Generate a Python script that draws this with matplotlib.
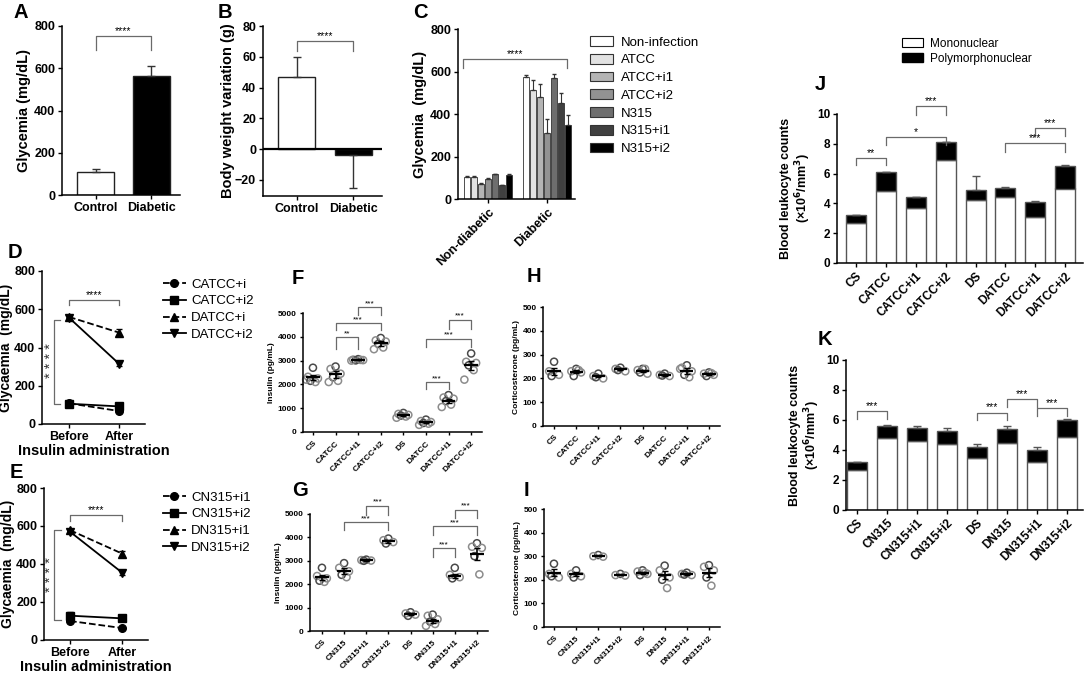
import matplotlib
matplotlib.use('Agg')
import matplotlib.pyplot as plt
import numpy as np
from matplotlib.lines import Line2D
from matplotlib.patches import Patch

plt.rcParams['font.family'] = ['Liberation Sans', 'DejaVu Sans']
plt.rcParams['font.weight'] = 'bold'
plt.rcParams['axes.linewidth'] = 1.1
plt.rcParams['axes.labelweight'] = 'bold'

# ---- data ----
ab_groups = ['Control', 'Diabetic']
glyc_a = [110, 562]
glyc_a_err = [12, 50]
bw_b = [47, -4]
bw_b_err = [13, 21]

c_groups = ['Non-diabetic', 'Diabetic']
c_series = ['Non-infection', 'ATCC', 'ATCC+i1', 'ATCC+i2', 'N315', 'N315+i1', 'N315+i2']
c_nondiab = [105, 105, 69, 94, 117, 64, 115]
c_nondiab_err = [3, 3, 4, 6, 3, 4, 3]
c_diab = [572, 513, 479, 311, 570, 450, 349]
c_diab_err = [13, 46, 63, 66, 20, 48, 45]
c_colors = ['#ffffff', '#e2e2e2', '#b4b4b4', '#929292', '#6e6e6e', '#404040', '#000000']

stages = ['Before', 'After']
d_labels = ['CATCC+i', 'CATCC+i2', 'DATCC+i', 'DATCC+i2']
d_vals = [[108, 68], [106, 92], [560, 478], [556, 315]]
d_err = [[4, 4], [6, 6], [8, 18], [8, 14]]
e_labels = ['CN315+i1', 'CN315+i2', 'DN315+i1', 'DN315+i2']
e_vals = [[100, 63], [128, 114], [578, 455], [570, 355]]
e_err = [[6, 4], [22, 6], [8, 16], [8, 12]]
line_styles = [('o', '--'), ('s', '-'), ('^', '--'), ('v', '-')]

f_cats = ['CS', 'CATCC', 'CATCC+i1', 'CATCC+i2', 'DS', 'DATCC', 'DATCC+i1', 'DATCC+i2']
f_pts = [[2700, 2320, 2250, 2150, 2100, 2200],
         [2750, 2650, 2450, 2300, 2150, 2100],
         [3060, 3040, 3020, 3010, 3030, 3000],
         [3950, 3850, 3800, 3700, 3550, 3480],
         [800, 760, 720, 690, 650, 600],
         [520, 460, 420, 380, 350, 300],
         [1550, 1450, 1400, 1300, 1150, 1050],
         [3300, 2950, 2900, 2800, 2600, 2200]]
f_mean = [2300, 2420, 3030, 3720, 720, 400, 1300, 2800]
f_sem = [100, 150, 20, 100, 30, 40, 100, 200]
f_sig = [(1, 2, 3990, 3500, '**'), (1, 3, 4580, 4270, '***'), (2, 3, 5250, 4900, '***'),
         (5, 6, 2100, 1820, '***'), (5, 7, 3920, 3570, '***'), (6, 7, 4720, 4340, '***')]

g_cats = ['CS', 'CN315', 'CN315+i1', 'CN315+i2', 'DS', 'DN315', 'DN315+i1', 'DN315+i2']
g_pts = [[2700, 2350, 2250, 2150, 2100],
         [2900, 2700, 2550, 2400, 2300],
         [3050, 3030, 3010, 3000],
         [3950, 3880, 3800, 3740],
         [800, 750, 700, 650],
         [700, 650, 500, 400, 300, 220],
         [2700, 2400, 2300, 2250],
         [3750, 3600, 3550, 3200, 2420]]
g_mean = [2300, 2570, 3020, 3830, 720, 430, 2350, 3300]
g_sem = [100, 120, 20, 50, 40, 100, 80, 250]
g_sig = [(2, 3, 5360, 4970, '***'), (1, 3, 4640, 4330, '***'), (5, 6, 3540, 3180, '***'),
         (5, 7, 4470, 4110, '***'), (6, 7, 5190, 4830, '***')]

h_pts = [[270, 230, 215, 210], [240, 230, 225, 210, 235], [220, 210, 200, 205],
         [245, 240, 230, 235], [240, 235, 220, 225, 240], [220, 215, 210, 212],
         [255, 245, 230, 215, 205, 240], [225, 220, 215, 210, 222]]
h_mean = [230, 228, 210, 240, 230, 214, 230, 220]
h_sem = [15, 6, 5, 4, 5, 3, 13, 4]

i_pts = [[268, 225, 210, 215], [240, 225, 215, 210], [305, 300, 298],
         [225, 220, 218], [240, 235, 225, 220, 230], [260, 240, 210, 200, 165],
         [230, 225, 220, 222], [262, 255, 240, 210, 175]]
i_mean = [230, 225, 302, 222, 230, 220, 225, 230]
i_sem = [14, 8, 3, 3, 5, 18, 3, 18]

j_cats = f_cats
j_mono = [2.7, 4.85, 3.7, 6.9, 4.2, 4.4, 3.1, 5.0]
j_total = [3.2, 6.1, 4.4, 8.1, 4.9, 5.0, 4.1, 6.5]
j_err = [0.05, 0.03, 0.03, 0.04, 0.95, 0.08, 0.06, 0.1]
j_sig = [(0, 1, 7.03, 6.58, '**'), (1, 3, 8.45, 7.9, '*'), (2, 3, 10.56, 9.96, '***'),
         (5, 7, 8.04, 7.48, '***'), (6, 7, 9.06, 8.54, '***')]

k_cats = g_cats
k_mono = [2.7, 4.8, 4.6, 4.4, 3.5, 4.5, 3.2, 4.9]
k_total = [3.2, 5.6, 5.5, 5.3, 4.2, 5.4, 4.0, 6.0]
k_err = [0.02, 0.1, 0.1, 0.2, 0.2, 0.2, 0.2, 0.1]
k_sig = [(0, 1, 6.6, 6.1, '***'), (4, 5, 6.5, 6.0, '***'), (5, 6, 7.4, 6.9, '***'),
         (6, 7, 6.8, 6.3, '***')]

W, H = 1084, 675
fig = plt.figure(figsize=(W / 100, H / 100), dpi=100)
BR = '#6a6a6a'


def add_ax(left, top, right, bottom):
    return fig.add_axes([left / W, 1 - bottom / H, (right - left) / W, (bottom - top) / H])


def style(ax, fs, tlen=3):
    ax.spines['top'].set_visible(False)
    ax.spines['right'].set_visible(False)
    ax.tick_params(direction='out', length=tlen, width=1, labelsize=fs, pad=2)


def bracket(ax, x1, x2, y, tip, text, fs):
    ax.plot([x1, x1, x2, x2], [tip, y, y, tip], color=BR, lw=0.9, clip_on=False)
    ax.text((x1 + x2) / 2, y, text, ha='center', va='bottom', fontsize=fs,
            fontweight='normal', clip_on=False)


def letter(x, y, s):
    fig.text(x / W, 1 - y / H, s, fontsize=14.5, fontweight='bold', ha='left', va='center')


# ---- A ----
ax = add_ax(62, 26, 180, 195)
xa = np.arange(len(ab_groups))
ax.bar(xa, glyc_a, width=0.66, color=['white', 'black'], edgecolor='#222', lw=1.0,
       yerr=[[0, 0], glyc_a_err], error_kw=dict(ecolor='#333', capsize=3, elinewidth=1))
ax.set_xlim(-0.6, 1.51)
ax.set_ylim(0, 800)
ax.set_yticks(range(0, 801, 200))
ax.set_xticks(xa, ab_groups)
ax.set_ylabel('Glycemia (mg/dL)', fontsize=10.5, labelpad=2)
style(ax, 9)
bracket(ax, 0, 1, 753, 686, '****', 7.5)

# ---- B ----
ax = add_ax(263, 26, 382, 196)
ax.bar(xa, bw_b, width=0.66, color=['white', 'black'], edgecolor='#222', lw=1.0,
       yerr=[[0, bw_b_err[1]], [bw_b_err[0], 0]],
       error_kw=dict(ecolor='#333', capsize=3, elinewidth=1))
ax.axhline(0, color='black', lw=1.6)
ax.set_xlim(-0.6, 1.51)
ax.set_ylim(-30.5, 80)
ax.set_yticks(range(-20, 81, 20))
ax.set_xticks(xa, ab_groups)
ax.set_ylabel('Body weight variation (g)', fontsize=10.5, labelpad=0)
style(ax, 9)
bracket(ax, 0, 1, 70.4, 64, '****', 7.5)

# ---- C ----
ax = add_ax(458, 29, 575, 199)
xc = np.arange(len(c_groups))
step = 0.118
for i, name in enumerate(c_series):
    ax.bar(xc + (i - 3) * step, [c_nondiab[i], c_diab[i]], width=0.1, color=c_colors[i],
           edgecolor='#333', lw=0.6, label=name,
           yerr=[[0, 0], [c_nondiab_err[i], c_diab_err[i]]],
           error_kw=dict(ecolor='#333', capsize=1.2, elinewidth=0.8))
ax.set_xlim(-0.51, 1.47)
ax.set_ylim(0, 800)
ax.set_yticks(range(0, 801, 200))
ax.set_xticks(xc)
ax.set_xticklabels(c_groups, rotation=45, ha='right', va='top', rotation_mode='anchor')
ax.set_ylabel('Glycemia  (mg/dL)', fontsize=10.5, labelpad=2)
style(ax, 9)
bracket(ax, -0.42, 1.34, 659, 615, '****', 7.5)
handles = [Patch(facecolor=c, edgecolor='#333', lw=0.8) for c in c_colors]
fig.legend(handles, c_series, loc='upper left', bbox_to_anchor=(585 / W, 1 - 31 / H),
           frameon=False, prop=dict(size=9.5, weight='normal'), handlelength=1.7,
           handleheight=0.75, labelspacing=0.4, handletextpad=0.6, borderaxespad=0)


# ---- D / E ----
def line_panel(box, xlim, labels, vals, errs, leg_xy, vb, stars_xy, topb):
    ax = add_ax(*box)
    x = np.arange(len(stages))
    handles = []
    for k, lab in enumerate(labels):
        m, ls = line_styles[k]
        ax.errorbar(x, vals[k], yerr=errs[k], marker=m, ls=ls, color='black', ms=5.5,
                    lw=1.3, capsize=2.5, elinewidth=1, label=lab, clip_on=False)
        handles.append(Line2D([], [], marker=m, ls=ls, color='black', ms=5.5, lw=1.3))
    ax.set_xlim(*xlim)
    ax.set_ylim(0, 800)
    ax.set_yticks(range(0, 801, 200))
    ax.set_xticks(x, stages)
    ax.set_ylabel('Glycaemia  (mg/dL)', fontsize=10, labelpad=0.5)
    ax.set_xlabel('Insulin administration', fontsize=10.5, labelpad=1)
    style(ax, 9)
    bracket(ax, 0, 1, topb[0], topb[1], '****', 7.5)
    xv, xt, ytop, ybot = vb
    ax.plot([xt, xv, xv, xt], [ytop, ytop, ybot, ybot], color=BR, lw=0.9, clip_on=False)
    ax.text(stars_xy[0], stars_xy[1], '* * * *', rotation=90, ha='center', va='center',
            fontsize=10.5, fontweight='normal', color='#333', clip_on=False)
    fig.legend(handles, labels, loc='upper left', bbox_to_anchor=(leg_xy[0] / W, 1 - leg_xy[1] / H),
               frameon=False, prop=dict(size=9.5, weight='normal'), handlelength=1.7,
               labelspacing=0.35, handletextpad=0.4, borderaxespad=0)


line_panel((42, 271, 145, 424), (-0.54, 1.52), d_labels, d_vals, d_err, (158, 273),
           (-0.3, -0.18, 545, 105), (-0.36, 330), (648, 620))
line_panel((44, 488, 148, 640), (-0.5, 1.5), e_labels, e_vals, e_err, (158, 486),
           (-0.3, -0.18, 580, 105), (-0.36, 345), (660, 625))


# ---- F-I scatter ----
def spread(n):
    base = [0.0, -0.22, 0.22, -0.11, 0.11, -0.3, 0.3]
    return np.array(base[:n])


def dot_panel(box, xlim, cats, pts, mean, sem, ylim, ystep, ylabel, sig):
    ax = add_ax(*box)
    for i, p in enumerate(pts):
        xs = i + spread(len(p))
        ecs = ['#8c8c8c' if j % 3 else '#4a4a4a' for j in range(len(p))]
        ax.scatter(xs, p, s=26, facecolors='none', edgecolors=ecs, linewidths=1.1, zorder=2,
                   clip_on=False)
    x = np.arange(len(cats))
    ax.hlines(mean, x - 0.3, x + 0.3, color='black', lw=1.6, zorder=3)
    ax.errorbar(x, mean, yerr=sem, fmt='none', ecolor='black', capsize=2.5, elinewidth=1.2,
                zorder=3)
    ax.set_xlim(*xlim)
    ax.set_ylim(*ylim)
    ax.set_yticks(np.arange(ylim[0], ylim[1] + 1, ystep))
    ax.set_xticks(x)
    ax.set_xticklabels(cats, rotation=45, ha='right', va='top', rotation_mode='anchor')
    ax.set_ylabel(ylabel, fontsize=6, labelpad=2)
    style(ax, 6, tlen=2.5)
    ax.tick_params(axis='x', pad=3)
    for a, b, y, tip, txt in sig:
        bracket(ax, a, b, y, tip, txt, 6)
    return ax


dot_panel((303, 313, 482, 432), (-0.44, 7.48), f_cats, f_pts, f_mean, f_sem, (0, 5000), 1000,
          'Insulin (pg/mL)', f_sig)
dot_panel((310, 514, 488, 631), (-0.54, 7.5), g_cats, g_pts, g_mean, g_sem, (0, 5000), 1000,
          'Insulin (pg/mL)', g_sig)
dot_panel((543, 307, 720, 426), (-0.5, 7.5), f_cats, h_pts, h_mean, h_sem, (0, 500), 100,
          'Corticosterone (pg/mL)', [])
dot_panel((544, 509, 720, 627), (-0.45, 7.5), g_cats, i_pts, i_mean, i_sem, (0, 500), 100,
          'Corticosterone (pg/mL)', [])


# ---- J / K stacked bars ----
def stack_panel(box, xlim, cats, mono, total, err, sig):
    ax = add_ax(*box)
    x = np.arange(len(cats))
    poly = np.array(total) - np.array(mono)
    ax.bar(x, mono, width=0.67, color='white', edgecolor='#555', lw=1.0, label='Mononuclear')
    ax.bar(x, poly, bottom=mono, width=0.67, color='black', edgecolor='#555', lw=1.0,
           label='Polymorphonuclear', yerr=[np.zeros(len(err)), err],
           error_kw=dict(ecolor='#555', capsize=3, elinewidth=1))
    ax.set_xlim(*xlim)
    ax.set_ylim(0, 10)
    ax.set_yticks(range(0, 11, 2))
    ax.set_xticks(x)
    ax.set_xticklabels(cats, rotation=45, ha='right', va='top', rotation_mode='anchor')
    ax.set_ylabel('Blood leukocyte counts\n(\u00d710$^\\mathbf{6}$/mm$^\\mathbf{3}$)',
                  fontsize=9, labelpad=3, linespacing=1.1)
    style(ax, 8.5)
    for a, b, y, tip, txt in sig:
        bracket(ax, a, b, y, tip, txt, 7.5)
    return ax


stack_panel((837, 114, 1083, 263), (-0.64, 7.6), j_cats, j_mono, j_total, j_err, j_sig)
stack_panel((846, 360, 1083, 510), (-0.37, 7.55), k_cats, k_mono, k_total, k_err, k_sig)
fig.legend([Patch(facecolor='white', edgecolor='black', lw=0.8),
            Patch(facecolor='black', edgecolor='black')],
           ['Mononuclear', 'Polymorphonuclear'], loc='upper left',
           bbox_to_anchor=(897 / W, 1 - 33 / H), frameon=False,
           prop=dict(size=8.5, weight='normal'), handlelength=1.8, handleheight=0.8,
           labelspacing=0.25, handletextpad=0.6, borderaxespad=0)

for s, (lx, ly) in {'A': (14, 12), 'B': (218, 12), 'C': (413, 12), 'D': (8, 253),
                    'E': (10, 472), 'F': (292, 278), 'G': (292, 490), 'H': (527, 277),
                    'I': (524, 490), 'J': (815, 85), 'K': (818, 340)}.items():
    letter(lx, ly, s)

fig.savefig('out.png', dpi=100)
